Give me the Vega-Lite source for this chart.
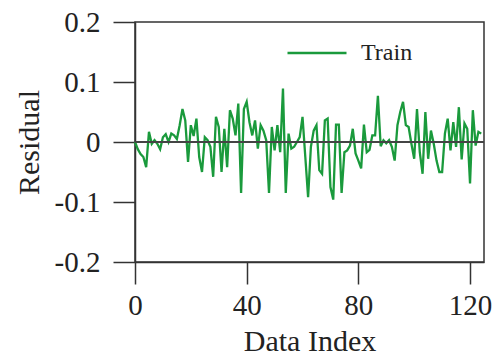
{
  "$schema": "https://vega.github.io/schema/vega-lite/v6.json",
  "width": 349,
  "height": 240,
  "autosize": {"type": "none"},
  "padding": {"left": 135, "top": 22, "right": 14, "bottom": 94},
  "background": "white",
  "config": {
    "font": "Liberation Serif",
    "view": {"stroke": "#333", "strokeWidth": 1.5},
    "axis": {
      "domainColor": "#333", "domainWidth": 1.5,
      "tickColor": "#333", "tickWidth": 1.5, "tickSize": 22,
      "grid": false,
      "labelFont": "Liberation Serif", "labelFontSize": 29, "labelColor": "#222",
      "titleFont": "Liberation Serif", "titleFontSize": 30, "titleFontWeight": "normal", "titleColor": "#222"
    }
  },
  "data": {"values": [
    {"index":0,"residual":0},{"index":1,"residual":-0.012},{"index":2,"residual":-0.02},{"index":3,"residual":-0.025},{"index":4,"residual":-0.042},
    {"index":5,"residual":0.017},{"index":6,"residual":-0.003},{"index":7,"residual":0.003},{"index":8,"residual":-0.003},{"index":9,"residual":-0.012},
    {"index":10,"residual":0.008},{"index":11,"residual":0.013},{"index":12,"residual":0},{"index":13,"residual":0.014},{"index":14,"residual":0.011},
    {"index":15,"residual":0.005},{"index":16,"residual":0.028},{"index":17,"residual":0.055},{"index":18,"residual":0.036},{"index":19,"residual":-0.033},
    {"index":20,"residual":0.028},{"index":21,"residual":0.01},{"index":22,"residual":0.039},{"index":23,"residual":-0.025},{"index":24,"residual":-0.05},
    {"index":25,"residual":0.008},{"index":26,"residual":0.003},{"index":27,"residual":-0.008},{"index":28,"residual":-0.058},{"index":29,"residual":0.042},
    {"index":30,"residual":0.025},{"index":31,"residual":-0.05},{"index":32,"residual":0.022},{"index":33,"residual":-0.042},{"index":34,"residual":0.053},
    {"index":35,"residual":0.039},{"index":36,"residual":0.011},{"index":37,"residual":0.064},{"index":38,"residual":-0.085},{"index":39,"residual":0.055},
    {"index":40,"residual":0.067},{"index":41,"residual":0.033},{"index":42,"residual":0.011},{"index":43,"residual":0.036},{"index":44,"residual":-0.011},
    {"index":45,"residual":0.028},{"index":46,"residual":0.019},{"index":47,"residual":0.003},{"index":48,"residual":-0.085},{"index":49,"residual":0.025},
    {"index":50,"residual":-0.014},{"index":51,"residual":0.028},{"index":52,"residual":-0.017},{"index":53,"residual":0.089},{"index":54,"residual":-0.085},
    {"index":55,"residual":0.014},{"index":56,"residual":-0.011},{"index":57,"residual":-0.008},{"index":58,"residual":0},{"index":59,"residual":0.008},
    {"index":60,"residual":0.042},{"index":61,"residual":-0.025},{"index":62,"residual":-0.092},{"index":63,"residual":-0.008},{"index":64,"residual":0.019},
    {"index":65,"residual":0.028},{"index":66,"residual":-0.047},{"index":67,"residual":-0.053},{"index":68,"residual":0.036},{"index":69,"residual":0.039},
    {"index":70,"residual":-0.075},{"index":71,"residual":-0.096},{"index":72,"residual":0.029},{"index":73,"residual":0.029},{"index":74,"residual":-0.085},
    {"index":75,"residual":-0.017},{"index":76,"residual":-0.014},{"index":77,"residual":-0.006},{"index":78,"residual":0.022},{"index":79,"residual":-0.019},
    {"index":80,"residual":-0.031},{"index":81,"residual":-0.044},{"index":82,"residual":0.029},{"index":83,"residual":-0.017},{"index":84,"residual":-0.013},
    {"index":85,"residual":0.011},{"index":86,"residual":0.011},{"index":87,"residual":0.077},{"index":88,"residual":-0.007},{"index":89,"residual":0.003},
    {"index":90,"residual":-0.002},{"index":91,"residual":0.003},{"index":92,"residual":-0.008},{"index":93,"residual":-0.031},{"index":94,"residual":0.028},
    {"index":95,"residual":0.05},{"index":96,"residual":0.067},{"index":97,"residual":0.028},{"index":98,"residual":0.025},{"index":99,"residual":-0.003},
    {"index":100,"residual":-0.028},{"index":101,"residual":0.055},{"index":102,"residual":-0.017},{"index":103,"residual":-0.053},{"index":104,"residual":0.05},
    {"index":105,"residual":-0.028},{"index":106,"residual":0.019},{"index":107,"residual":-0.003},{"index":108,"residual":-0.031},{"index":109,"residual":-0.05},
    {"index":110,"residual":-0.05},{"index":111,"residual":0.014},{"index":112,"residual":0.039},{"index":113,"residual":-0.014},{"index":114,"residual":0.033},
    {"index":115,"residual":-0.008},{"index":116,"residual":0.058},{"index":117,"residual":-0.029},{"index":118,"residual":0.031},{"index":119,"residual":0.022},
    {"index":120,"residual":-0.069},{"index":121,"residual":0.053},{"index":122,"residual":-0.006},{"index":123,"residual":0.017},{"index":124,"residual":0.014}
  ]},
  "layer": [
    {
      "mark": {"type": "line", "strokeWidth": 2.3},
      "encoding": {
        "x": {"field": "index", "type": "quantitative", "title": "Data Index",
              "scale": {"domain": [0, 125], "nice": false, "zero": false},
              "axis": {"values": [0, 40, 80, 120], "labelPadding": 7, "labelFlush": false,
                       "titleBaseline": "alphabetic", "titleY": 88}},
        "y": {"field": "residual", "type": "quantitative", "title": "Residual",
              "scale": {"domain": [-0.2, 0.2], "nice": false},
              "axis": {"values": [-0.2, -0.1, 0, 0.1, 0.2], "labelExpr": "'' + datum.value",
                       "labelPadding": 13, "labelFlush": false,
                       "titleBaseline": "alphabetic", "titleX": -97, "titleAngle": -90}},
        "color": {"datum": "Train", "type": "nominal",
                  "scale": {"range": ["#1a9a3c"]},
                  "legend": {"title": null, "orient": "none", "legendX": 151, "legendY": 0,
                             "symbolType": "stroke", "symbolSize": 3481, "symbolStrokeWidth": 2.3,
                             "labelFont": "Liberation Serif", "labelFontSize": 24, "labelColor": "#222",
                             "labelOffset": 13, "padding": 0}}
      }
    },
    {
      "mark": {"type": "rule", "color": "#444", "strokeWidth": 1.5},
      "encoding": {"y": {"datum": 0}}
    }
  ]
}
